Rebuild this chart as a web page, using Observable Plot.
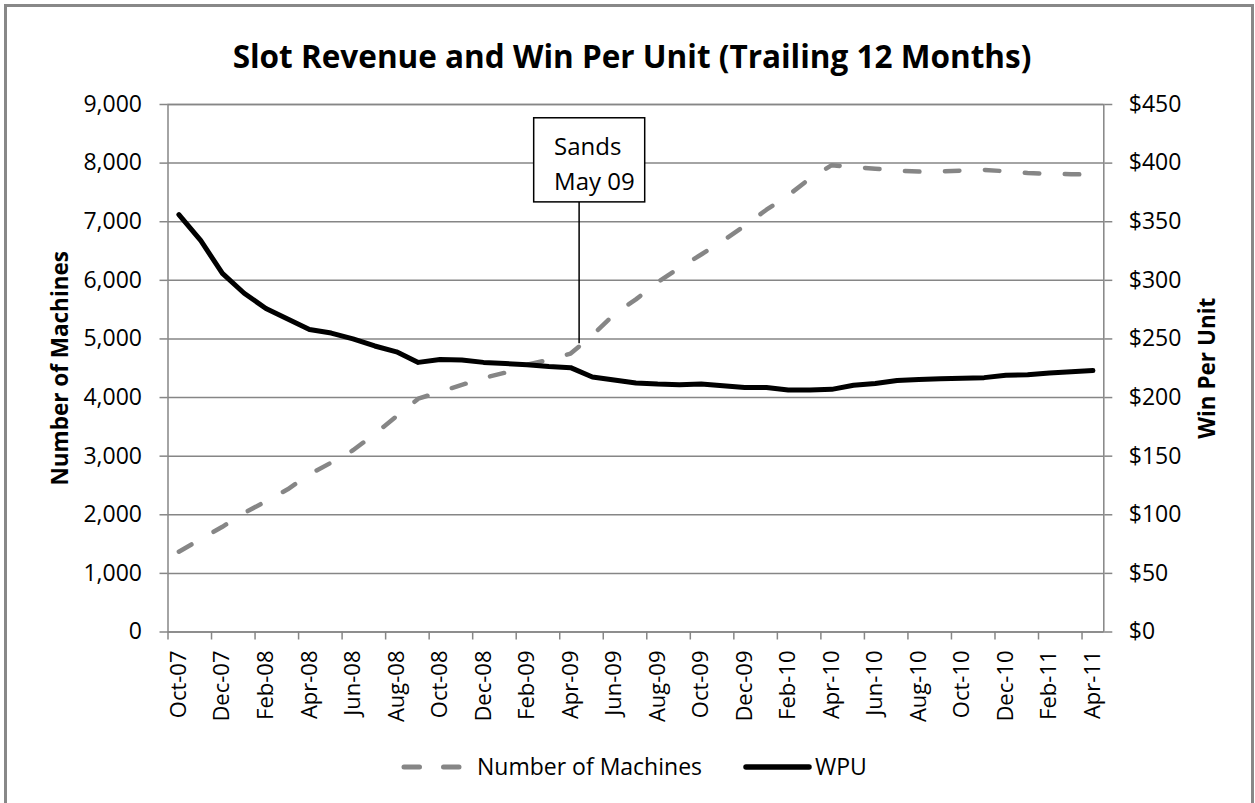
<!DOCTYPE html>
<html><head><meta charset="utf-8">
<script src="https://cdn.jsdelivr.net/npm/d3@7"></script>
<script src="https://cdn.jsdelivr.net/npm/@observablehq/plot@0.6"></script>
<style>
html,body{margin:0;padding:0;background:#fff;}
#wrap{position:relative;width:1255px;height:803px;overflow:hidden;font-family:'Open Sans',sans-serif;}
#border{position:absolute;left:4px;top:4px;width:1250px;height:840px;border:3px solid #888;box-sizing:border-box;}
#title{position:absolute;left:0;width:1264px;top:36px;text-align:center;font-weight:bold;font-size:31.5px;line-height:40px;white-space:nowrap;}
#chart{position:absolute;left:0;top:0;}
#legend{position:absolute;left:0;top:0;}
</style></head><body>
<div id="wrap">
<div id="border"></div>
<div id="title">Slot Revenue and Win Per Unit (Trailing 12 Months)</div>
<div id="chart"></div>
<svg id="legend" width="1255" height="803"></svg>
</div>
<script>
const months = ["Oct-07","Nov-07","Dec-07","Jan-08","Feb-08","Mar-08","Apr-08","May-08","Jun-08","Jul-08","Aug-08","Sep-08",
  "Oct-08","Nov-08","Dec-08","Jan-09","Feb-09","Mar-09","Apr-09","May-09","Jun-09","Jul-09","Aug-09","Sep-09",
  "Oct-09","Nov-09","Dec-09","Jan-10","Feb-10","Mar-10","Apr-10","May-10","Jun-10","Jul-10","Aug-10","Sep-10",
  "Oct-10","Nov-10","Dec-10","Jan-11","Feb-11","Mar-11","Apr-11"];
const machines = [1370,1585,1795,2030,2230,2435,2690,2890,3100,3380,3680,3980,
  4100,4215,4335,4425,4560,4645,4750,5060,5420,5675,5970,6215,
  6440,6675,6930,7205,7450,7740,7965,7930,7905,7870,7855,7860,
  7870,7885,7860,7830,7820,7810,7805];
const wpu = [356,334,306,289,276,267,258,255,250,244,239,230,
  232.5,232,230,229,228,226.5,225.5,217.5,215,212.5,211.5,211,
  211.5,210,208.5,208.5,206.5,206.5,207,210.5,212,214.5,215.5,216,
  216.5,217,219,219.5,221,222,223];
const xTickLabels = months.filter((m, i) => i % 2 === 0);
const leftTicks = [0,1000,2000,3000,4000,5000,6000,7000,8000,9000];
const rightTicks = [0,50,100,150,200,250,300,350,400,450];
const seriesNames = ["Number of Machines", "WPU"];
const yTitles = ["Number of Machines", "Win Per Unit"];
const annotation = {month: "Apr-09", lines: ["Sands", "May 09"]};

const data = months.map((m, i) => ({month: m, machines: machines[i], wpu: wpu[i]}));
const ratio = 9000 / 450;

const W = 1255, H = 720;
const mL = 167.5, mR = 1255 - 1103.3, mT = 104, mB = H - 631.5;
const step = (W - mL - mR) / months.length;
const grid = "#868686";

const chart = Plot.plot({
  width: W, height: H,
  marginTop: mT, marginBottom: mB, marginLeft: mL, marginRight: mR,
  style: {fontFamily: "'Open Sans', sans-serif", fontSize: "22px", background: "transparent", overflow: "visible", color: "#000"},
  x: {type: "point", domain: months, padding: 0.5, align: 0.5},
  y: {domain: [0, 9000]},
  marks: [
    Plot.ruleY(leftTicks, {stroke: grid, strokeWidth: 1.5}),
    Plot.frame({stroke: grid, strokeWidth: 1.5}),
    Plot.axisY({anchor: "left", ticks: leftTicks, tickSize: 8, tickFormat: () => "", stroke: grid, strokeWidth: 1.5, label: null}),
    Plot.axisY({anchor: "left", ticks: leftTicks, tickSize: 8, tickPadding: 18, tickFormat: d3.format(","), stroke: "none", fontSize: 23, label: null}),
    Plot.axisY({anchor: "right", ticks: rightTicks.map(v => v * ratio), tickSize: 8, tickFormat: () => "", stroke: grid, strokeWidth: 1.5, label: null}),
    Plot.axisY({anchor: "right", ticks: rightTicks.map(v => v * ratio), tickSize: 8, tickPadding: 17, tickFormat: d => "$" + d3.format(",")(d / ratio), stroke: "none", fontSize: 23, label: null}),
    Plot.axisX({ticks: xTickLabels, tickSize: 8, dx: -step / 2, tickFormat: () => "", stroke: grid, strokeWidth: 1.5, label: null}),
    Plot.axisX({ticks: xTickLabels, tickSize: 0, tickPadding: 18.5, tickRotate: -90, fontSize: 22, label: null}),
    Plot.text([yTitles[0]], {frameAnchor: "left", dx: 60 - mL, rotate: -90, textAnchor: "middle", fontWeight: "bold", fontSize: 22.5}),
    Plot.text([yTitles[1]], {frameAnchor: "right", dx: 1207 - (W - mR), rotate: -90, textAnchor: "middle", fontWeight: "bold", fontSize: 22.5}),
    Plot.line(data, {x: "month", y: "machines", stroke: grid, strokeWidth: 4.5, strokeDasharray: "14.5,25.5", strokeLinecap: "round", strokeLinejoin: "round"}),
    Plot.line(data, {x: "month", y: d => d.wpu * ratio, stroke: "#000", strokeWidth: 5, strokeLinejoin: "round", strokeLinecap: "round"}),
    Plot.ruleX([annotation], {x: "month", dx: 8.5, y1: 4920, y2: 7330, stroke: "#000", strokeWidth: 1.5}),
    Plot.rect([annotation], {x1: () => "Feb-09", x2: () => "Jul-09", y1: 7330, y2: 8765, insetLeft: 7.1, insetRight: -9.3, fill: "#fff", stroke: "#000", strokeWidth: 1.5}),
    Plot.text([annotation], {x: () => "Feb-09", y: 8270, dx: 27, text: d => d.lines[0], textAnchor: "start", fontSize: 24}),
    Plot.text([annotation], {x: () => "Feb-09", y: 7675, dx: 27, text: d => d.lines[1], textAnchor: "start", fontSize: 24})
  ]
});
document.getElementById("chart").appendChild(chart);

// legend
const lg = d3.select("#legend");
const ly = 767;
lg.append("line").attr("x1", 404).attr("x2", 459).attr("y1", ly).attr("y2", ly)
  .attr("stroke", grid).attr("stroke-width", 5).attr("stroke-dasharray", "15.5,24").attr("stroke-linecap", "round");
lg.append("text").attr("x", 477).attr("y", ly).attr("dy", "0.35em").attr("font-size", 23)
  .attr("font-family", "'Open Sans', sans-serif").text(seriesNames[0]);
lg.append("line").attr("x1", 746).attr("x2", 809).attr("y1", ly).attr("y2", ly)
  .attr("stroke", "#000").attr("stroke-width", 5.5).attr("stroke-linecap", "round");
lg.append("text").attr("x", 815).attr("y", ly).attr("dy", "0.35em").attr("font-size", 23)
  .attr("font-family", "'Open Sans', sans-serif").text(seriesNames[1]);
</script>
</body></html>
